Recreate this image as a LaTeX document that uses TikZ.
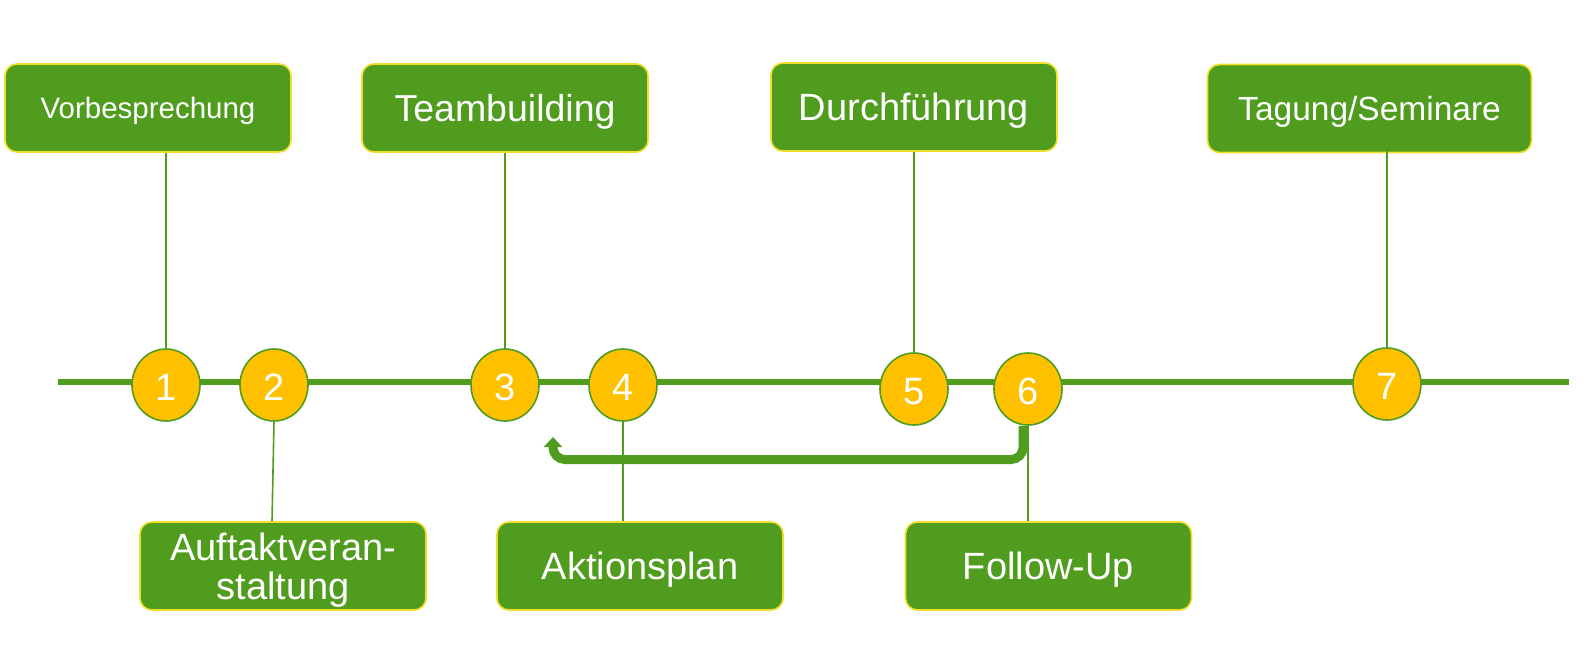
\documentclass[tikz,border=0pt]{standalone}
\usepackage{fontspec}
\setmainfont{Liberation Sans}
\usetikzlibrary{arrows.meta,shapes.geometric}
\definecolor{tgreen}{RGB}{80,156,30}
\definecolor{tyellow}{RGB}{240,222,40}
\definecolor{tgold}{RGB}{255,192,0}
\begin{document}
\begin{tikzpicture}[x=1pt,y=-1pt,
  phasebox/.style={draw=tyellow, line width=1.6pt, fill=tgreen, rounded corners=12pt,
    minimum width=286pt, minimum height=88pt, inner sep=0pt, text=white, align=center,
    text depth=0pt},
  milestone/.style={ellipse, draw=tgreen, line width=1.6pt, fill=tgold,
    minimum width=68pt, minimum height=72pt, inner sep=0pt, text=white,
    text height=31pt, text depth=0pt,
    font=\fontsize{38}{38}\selectfont},
  link/.style={draw=tgreen, line width=1.6pt},
  timeline/.style={draw=tgreen, line width=6pt},
  backarrow/.style={draw=tgreen, line width=9pt, rounded corners=12pt,
    -{Triangle[width=18pt,length=10pt]}}
]
\useasboundingbox (0,0) rectangle (1590,655);

% timeline
\coordinate (tl0) at (58,382);
\coordinate (tl1) at (1569,382);
\draw[timeline] (tl0) -- (tl1);

% milestones
\node[milestone] (c1) at (166,385) {1};
\node[milestone] (c2) at (274,385) {2};
\node[milestone] (c3) at (505,385) {3};
\node[milestone] (c4) at (623,385) {4};
\node[milestone] (c5) at (914,389) {5};
\node[milestone] (c6) at (1028,389) {6};
\node[milestone] (c7) at (1387,384) {7};

% upper boxes
\node[phasebox, font=\fontsize{29.5}{32}\selectfont] (b1) at (148,108) {Vorbesprechung};
\node[phasebox, font=\fontsize{37.5}{40}\selectfont] (b3) at (505,108) {Teambuilding};
\node[phasebox, font=\fontsize{38}{40}\selectfont] (b5) at (914,107) {Durchführung};
\node[phasebox, minimum width=324pt, font=\fontsize{33.5}{36}\selectfont] (b7) at (1369.5,108.5) {Tagung/Seminare};

% lower boxes
\node[phasebox, font=\fontsize{38}{38.5}\selectfont] (b2) at (283,566) {Auftaktveran-\\staltung};
\node[phasebox, font=\fontsize{38}{40}\selectfont] (b4) at (640,566) {Aktionsplan};
\node[phasebox, font=\fontsize{38}{40}\selectfont] (b6) at (1048.5,566) {Follow-Up};

% connectors
\draw[link] (c1.north) -- (c1.north |- b1.south);
\draw[link] (c3.north) -- (c3.north |- b3.south);
\draw[link] (c5.north) -- (c5.north |- b5.south);
\draw[link] (c7.north) -- ([yshift=4pt]c7.north |- b7.south);
\draw[link] (c2.south) -- ([xshift=-2pt]c2.south |- b2.north);
\draw[link] (c4.south) -- (c4.south |- b4.north);
\draw[link] (c6.south) -- (c6.south |- b6.north);

% return arrow
\coordinate (ret) at (553,437);
\draw[backarrow] ([xshift=-5pt]c6.south) -- ([xshift=-5pt]c6.south |- 0,459.5) -- (ret |- 0,459.5) -- (ret);
\end{tikzpicture}
\end{document}
